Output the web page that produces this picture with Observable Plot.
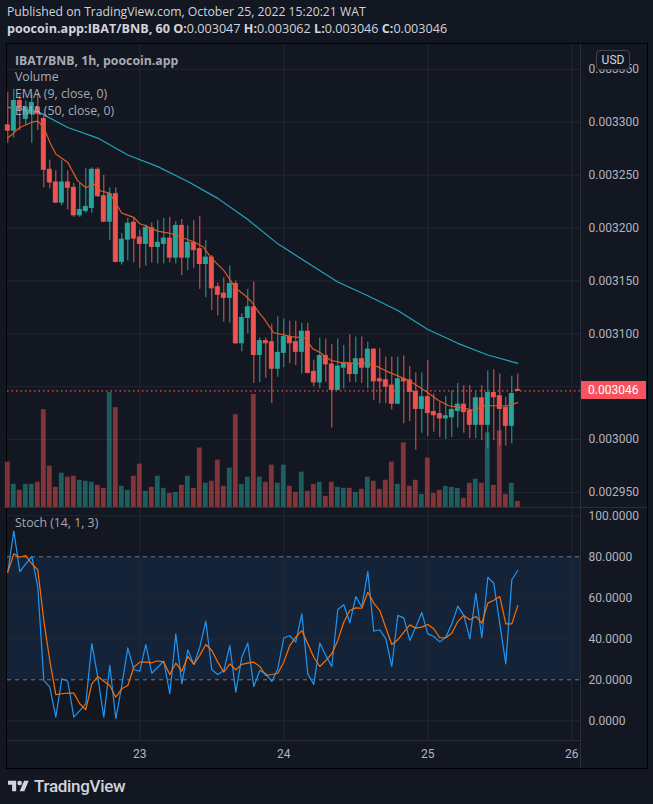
<!DOCTYPE html>
<html><head><meta charset="utf-8">
<script src="https://cdn.jsdelivr.net/npm/d3@7"></script>
<script src="https://cdn.jsdelivr.net/npm/@observablehq/plot@0.6"></script>
<style>
html,body{margin:0;padding:0;background:#131722;width:653px;height:804px;overflow:hidden;}
#root{position:relative;width:653px;height:804px;font-family:Roboto,"Noto Sans",sans-serif;}
.hdr{position:absolute;left:7px;color:#d1d4dc;font-family:"Open Sans";font-size:12.2px;white-space:nowrap;line-height:16px;}
.leg{position:absolute;left:15px;color:#a8abb3;font-family:"Open Sans";font-size:12.3px;white-space:nowrap;line-height:16px;}
</style></head><body><div id="root"></div>
<script>
// ---- data (hourly candles, first at 2022-10-22 02:00 UTC) ----
const firstHour = Date.UTC(2022, 9, 22, 2);
const opens  = [0.003297,0.003292,0.003320,0.003303,0.003308,0.003314,0.003303,0.003255,0.003243,0.003224,
  0.003243,0.003238,0.003212,0.003216,0.003219,0.003255,0.003230,0.003206,0.003232,0.003168,
  0.003189,0.003205,0.003191,0.003185,0.003200,0.003182,0.003185,0.003190,0.003172,0.003202,
  0.003172,0.003186,0.003180,0.003166,0.003172,0.003144,0.003138,0.003134,0.003147,0.003091,
  0.003115,0.003125,0.003080,0.003093,0.003092,0.003067,0.003082,0.003097,0.003092,0.003083,
  0.003102,0.003064,0.003054,0.003079,0.003071,0.003047,0.003068,0.003072,0.003062,0.003076,
  0.003068,0.003085,0.003057,0.003056,0.003051,0.003034,0.003057,0.003056,0.003045,0.003029,
  0.003040,0.003026,0.003024,0.003020,0.003021,0.003027,0.003033,0.003027,0.003014,0.003039,
  0.003014,0.003044,0.003041,0.003030,0.003013,0.003047];
const highs  = [0.003328,0.003331,0.003325,0.003320,0.003327,0.003327,0.003308,0.003264,0.003254,0.003264,
  0.003254,0.003242,0.003242,0.003256,0.003257,0.003257,0.003250,0.003238,0.003238,0.003195,
  0.003209,0.003210,0.003198,0.003203,0.003205,0.003207,0.003209,0.003210,0.003206,0.003208,
  0.003202,0.003207,0.003211,0.003188,0.003174,0.003148,0.003153,0.003164,0.003150,0.003119,
  0.003142,0.003149,0.003096,0.003096,0.003109,0.003116,0.003114,0.003112,0.003112,0.003110,
  0.003110,0.003075,0.003096,0.003095,0.003090,0.003095,0.003089,0.003099,0.003097,0.003097,
  0.003092,0.003086,0.003086,0.003078,0.003078,0.003078,0.003079,0.003069,0.003063,0.003063,
  0.003075,0.003043,0.003035,0.003041,0.003046,0.003053,0.003051,0.003051,0.003045,0.003051,
  0.003065,0.003066,0.003062,0.003040,0.003060,0.003062];
const lows   = [0.003280,0.003285,0.003292,0.003297,0.003280,0.003292,0.003238,0.003237,0.003223,0.003221,
  0.003217,0.003210,0.003210,0.003214,0.003214,0.003229,0.003205,0.003188,0.003167,0.003165,
  0.003169,0.003167,0.003162,0.003164,0.003167,0.003166,0.003166,0.003167,0.003166,0.003155,
  0.003160,0.003162,0.003142,0.003134,0.003122,0.003117,0.003111,0.003110,0.003090,0.003083,
  0.003100,0.003053,0.003054,0.003058,0.003034,0.003059,0.003068,0.003072,0.003070,0.003062,
  0.003062,0.003050,0.003048,0.003054,0.003011,0.003046,0.003048,0.003054,0.003054,0.003053,
  0.003048,0.003037,0.003034,0.003034,0.003028,0.003033,0.003015,0.003017,0.002990,0.003006,
  0.003003,0.003007,0.003002,0.003000,0.003002,0.003011,0.003006,0.003001,0.003001,0.002999,
  0.002991,0.002999,0.002994,0.002994,0.002996,0.003046];
const closes = [0.003292,0.003320,0.003311,0.003314,0.003318,0.003308,0.003255,0.003243,0.003224,0.003243,
  0.003238,0.003212,0.003217,0.003220,0.003255,0.003230,0.003206,0.003232,0.003168,0.003189,
  0.003204,0.003190,0.003185,0.003200,0.003182,0.003186,0.003190,0.003172,0.003202,0.003172,
  0.003186,0.003179,0.003166,0.003172,0.003143,0.003137,0.003134,0.003147,0.003091,0.003115,
  0.003125,0.003080,0.003093,0.003091,0.003067,0.003082,0.003097,0.003091,0.003083,0.003102,
  0.003063,0.003054,0.003079,0.003071,0.003047,0.003069,0.003072,0.003062,0.003076,0.003068,
  0.003085,0.003055,0.003055,0.003050,0.003034,0.003057,0.003055,0.003045,0.003029,0.003040,
  0.003025,0.003023,0.003020,0.003022,0.003028,0.003033,0.003026,0.003014,0.003039,0.003014,
  0.003044,0.003040,0.003029,0.003013,0.003043,0.003046];
const volumes = [46,24,18,24,24,26,98,42,21,35, 31,32,28,27,26,23,20,115,100,22,
  18,32,44,17,21,32,20,15,16,23, 32,20,60,25,27,48,22,40,93,24,
  31,113,31,26,43,25,43,22,16,36, 17,24,26,12,26,21,20,20,16,19,
  31,27,19,28,46,24,65,22,28,14, 50,15,18,22,21,20,10,25,29,25,
  75,23,77,14,25,7];
const stochK = [72.5,92.5,72.8,76.6,80.1,65.2,19.7,16.4,1.8,20.5, 19.3,1.8,5.0,8.3,37.6,21.3,1.8,27,1,17.2,
  35.6,24.9,24.2,37.2,23.2,26.1,29.1,13.2,42.4,18, 34.6,27.5,35.9,48.6,24.9,22.6,24.5,36.7,14,31,
  37.9,16.7,24.5,22.9,19.2,25.4,40.5,41.5,38.4,52.2, 22.9,17.7,37.9,31.9,26.5,54.3,56.6,47.8,60.6,55.4,
  72.8,43.7,44.4,40,26.5,51.4,50.2,39.2,45.7,52.8, 42.4,41.1,38.5,40.8,47.3,55.9,51.4,40,62.2,40.5,
  70,67.1,47.3,27.8,68.8,73.3];
const stochD = [72.5,81.5,79.8,80.6,76.6,73.7,48.9,29.4,12.8,13.2, 13.5,13.5,8.3,5.4,18,21.6,19.3,17.2,11.5,15.6,
  17.2,26.1,28.6,28.6,28.3,29.3,28.6,22.6,28.1,24.2, 31.4,27.5,31.9,37.2,34.3,28.6,23.7,27.8,24.9,27.5,
  28.1,28.6,26.5,22.1,22.6,23.2,28.6,36.7,40.8,44, 37.6,31,26.5,29.4,32.7,39.2,48.1,53.8,55.1,54.9,
  62.7,57.4,53.8,45.4,37.2,39.5,43.2,46.8,45.2,45.7, 47,44.9,40.5,40.5,42.7,48.4,51.4,49.3,50.9,47.6,
  57.4,58.8,60.6,47.3,47.3,56.2];
// EMA values at the given hour offsets from the first candle
const ema9Hours = [0,2,4,5,6,7,8,10,11.6,13,14.3,15.5,17,19,21,22,23,25,27,28.5,31,32.6,34,36,38,39.6,40.5,42,42.6,44.3,46,47.6,49.6,50.8,52.1,53.8,55.4,57.6,60,61.6,63,66.8,69.6,71.8,73.5,75.8,77.5,79.6,81.3,83.3,85];
const ema9 = [0.003285,0.003295,0.003300,0.003301,0.003295,0.003281,0.003270,0.003262,0.003245,0.003238,0.003242,0.003235,0.003233,0.003214,0.003210,0.003204,0.003202,0.003197,0.003195,0.003192,0.003187,0.003182,0.003171,0.003160,0.003143,0.003136,0.003131,0.003119,0.003115,0.003101,0.003099,0.003097,0.003096,0.003086,0.003082,0.003075,0.003073,0.003072,0.003072,0.003069,0.003065,0.003056,0.003046,0.003037,0.003032,0.003030,0.003028,0.003032,0.003032,0.003032,0.003035];
const ema50Hours = [0,5,10,15,20,25,30,35,40,45,50,55,60,65,70,75,80,85];
const ema50 = [0.003314,0.003310,0.003295,0.003285,0.003269,0.003258,0.003244,0.003228,0.003208,0.003185,0.003167,0.003149,0.003136,0.003122,0.003104,0.003091,0.003080,0.003072];
const priceGrid = [0.00295,0.0030,0.00305,0.0031,0.00315,0.0032,0.00325,0.0033,0.00335];
const priceTickLabels = [0.00295,0.0030,0.0031,0.00315,0.0032,0.00325,0.0033,0.00335];
const stochTicks = [0,20,40,60,80,100];
const dayTicks = [23,24,25,26];

// ---- build ----
const H = 3600e3;
const UP = "#26a69a", DOWN = "#ef5350", GRID = "#232733";
const t0 = new Date(firstHour - 0.05*H), t1 = new Date(firstHour + 95.45*H);
const candles = opens.map((o,i)=>({date:new Date(firstHour+i*H), open:o, high:highs[i], low:lows[i], close:closes[i], volume:volumes[i], k:stochK[i], d:stochD[i]}));
const up = candles.filter(c=>c.close>=c.open), down = candles.filter(c=>c.close<c.open);
const ema9Rows = ema9Hours.map((h,i)=>({date:new Date(firstHour+h*H), v:ema9[i]}));
const ema50Rows = ema50Hours.map((h,i)=>({date:new Date(firstHour+h*H), v:ema50[i]}));
const days = dayTicks.map(d=>new Date(Date.UTC(2022,9,d)));
const priceDomain = [0.00293487, 0.00337344];
const style = {background:"transparent", color:"#b2b5be", fontFamily:"Roboto", fontSize:"12px", overflow:"visible"};
const base = {width:640, height:464, marginLeft:0, marginRight:67, marginTop:0, marginBottom:0, style};
const root = document.getElementById("root");
function place(el, left, top){ el.style.position="absolute"; el.style.left=left+"px"; el.style.top=top+"px"; root.appendChild(el); return el; }
function div(css, html){ const d=document.createElement("div"); d.style.cssText=css; if(html!==undefined) d.innerHTML=html; root.appendChild(d); return d; }
const bx = (d,w)=>new Date(+d.date - w*H), ex = (d,w)=>new Date(+d.date + w*H);

// frame
div("position:absolute;left:6px;top:43px;width:640px;height:724px;border:1px solid #000;");

// layer 1: grid + price axis
const pGrid = Plot.plot({...base, x:{type:"utc", domain:[t0,t1], axis:null}, y:{domain:priceDomain}, marks:[
  Plot.gridY(priceGrid, {stroke:GRID, strokeOpacity:1}),
  Plot.gridX(days, {stroke:GRID, strokeOpacity:1}),
  Plot.axisY(priceTickLabels, {anchor:"right", tickFormat:d3.format(".6f"), tickSize:0, tickPadding:8, fill:"#b2b5be"})
]});
place(pGrid, 7, 44);

// layer 2: volume overlay
const vMax = d3.max(volumes);
const pVol = Plot.plot({...base, x:{type:"utc", domain:[t0,t1], axis:null}, y:{domain:[0, vMax/0.25], axis:null}, marks:[
  Plot.rect(up, {x1:d=>bx(d,0.4), x2:d=>ex(d,0.4), y1:0, y2:"volume", fill:UP, fillOpacity:0.5}),
  Plot.rect(down, {x1:d=>bx(d,0.4), x2:d=>ex(d,0.4), y1:0, y2:"volume", fill:DOWN, fillOpacity:0.5})
]});
place(pVol, 7, 44);

// layer 3: candles + EMAs
const last = candles[candles.length-1];
const pMain = Plot.plot({...base, x:{type:"utc", domain:[t0,t1], axis:null}, y:{domain:priceDomain, axis:null}, marks:[
  Plot.line(ema50Rows, {x:"date", y:"v", stroke:"#22a5bc", strokeWidth:1.2}),
  Plot.ruleY([last.close], {stroke:DOWN, strokeDasharray:"1.5,3", strokeWidth:1.2}),
  Plot.ruleX(up, {x:"date", y1:"low", y2:"high", stroke:UP, strokeWidth:1}),
  Plot.ruleX(down, {x:"date", y1:"low", y2:"high", stroke:DOWN, strokeWidth:1}),
  Plot.rect(up, {x1:d=>bx(d,0.33), x2:d=>ex(d,0.33), y1:"open", y2:"close", fill:UP, stroke:UP, strokeWidth:1}),
  Plot.rect(down, {x1:d=>bx(d,0.33), x2:d=>ex(d,0.33), y1:"open", y2:"close", fill:DOWN, stroke:DOWN, strokeWidth:1}),
  Plot.line(ema9Rows, {x:"date", y:"v", stroke:"#dc5a22", strokeWidth:1.2})
]});
place(pMain, 7, 44);

// current price label
const yLast = pMain.scale("y").apply(last.close);
div(`position:absolute;left:580px;top:${44+yLast-9}px;width:66px;height:18px;background:#f7525f;color:#fff;font-family:Roboto;font-size:12px;line-height:18px;padding-left:8px;box-sizing:border-box;`, d3.format(".6f")(last.close));

// stoch pane + time axis
const pSto = Plot.plot({width:640, height:259, marginLeft:0, marginRight:67, marginTop:0, marginBottom:28, style,
  x:{type:"utc", domain:[t0,t1]}, y:{domain:[-9.61,103.07]}, marks:[
  Plot.rect([0], {x1:()=>t0, x2:()=>t1, y1:20, y2:80, fill:"#2196f3", fillOpacity:0.1}),
  Plot.gridY([0,40,60,100], {stroke:GRID, strokeOpacity:1}),
  Plot.gridX(days, {stroke:GRID, strokeOpacity:1}),
  Plot.ruleY([20,80], {stroke:"#787b86", strokeDasharray:"4,4"}),
  Plot.line(candles, {x:"date", y:"k", stroke:"#2196f3", strokeWidth:1.2}),
  Plot.line(candles, {x:"date", y:"d", stroke:"#ff6d00", strokeWidth:1.2}),
  Plot.axisY(stochTicks, {anchor:"right", tickFormat:d3.format(".4f"), tickSize:0, tickPadding:8, fill:"#b2b5be"}),
  Plot.axisX(days, {anchor:"bottom", tickFormat:d3.utcFormat("%-d"), tickSize:0, tickPadding:9, fill:"#b2b5be"}),
  Plot.ruleY([-9.61], {stroke:"#2a2e39"})
]});
place(pSto, 7, 509);

// separators
div("position:absolute;left:7px;top:507px;width:640px;height:1px;background:#2a2e39;");
div("position:absolute;left:580px;top:44px;width:1px;height:724px;background:#2a2e39;");

// USD box
div("position:absolute;left:596px;top:50px;width:32px;height:18px;border:1px solid #434651;border-radius:4px;background:#131722;color:#d1d4dc;font-family:Roboto;font-size:12px;line-height:18px;text-align:center;", "USD");

// header
const f6 = d3.format(".6f");
const h1 = div("", "Published on TradingView.com, October 25, 2022 15:20:21 WAT"); h1.className="hdr"; h1.style.top="4px";
const h2 = div("", `<b>poocoin.app:IBAT/BNB, 60 O:</b>${f6(last.open)} <b>H:</b>${f6(last.high)} <b>L:</b>${f6(last.low)} <b>C:</b>${f6(last.close)}`); h2.className="hdr"; h2.style.top="21px"; h2.style.fontSize="12.6px";

// legends
[["<b>IBAT/BNB, 1h, poocoin.app</b>",53],["Volume",69],["EMA (9, close, 0)",86],["EMA (50, close, 0)",103],["Stoch (14, 1, 3)",515]].forEach(([t,y])=>{ const d=div("",t); d.className="leg"; d.style.top=y+"px"; });

// logo
div("position:absolute;left:8px;top:776px;height:20px;display:flex;align-items:center;color:#d1d4dc;font-family:Roboto;font-weight:500;font-size:17px;letter-spacing:-0.3px;",
 `<svg width="21" height="14" viewBox="0 2 36 22" style="margin-right:5px"><path d="M14 22H7V11H0V4h14v18zM28 22h-8l7.5-18h8L28 22z" fill="#d1d4dc"/><circle cx="20" cy="8" r="4" fill="#d1d4dc"/></svg>TradingView`);
</script></body></html>
